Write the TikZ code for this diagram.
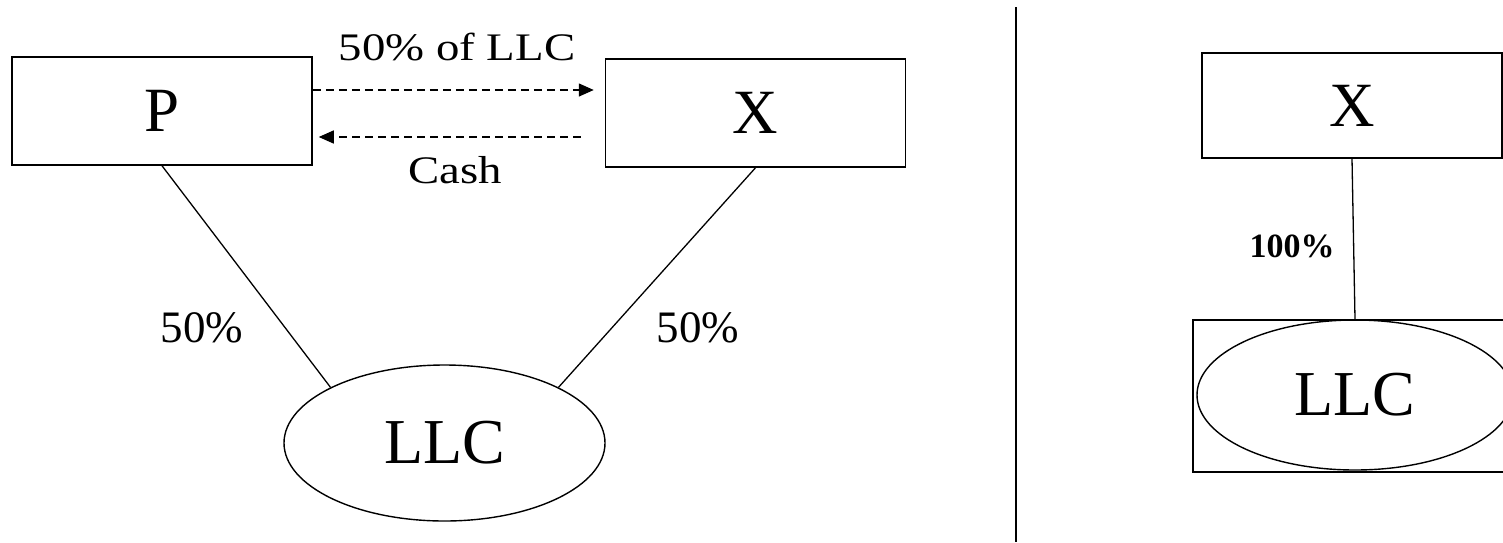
\documentclass[tikz,border=0pt]{standalone}
\usepackage{fontspec}
\setmainfont{Liberation Serif}
\usetikzlibrary{shapes.geometric,arrows.meta}

\begin{document}
\begin{tikzpicture}[x=1pt,y=-1pt,
  entity/.style={draw,line width=1.5pt,minimum width=300pt,minimum height=108pt,inner sep=0pt,font=\fontsize{63}{70}\selectfont},
  llc/.style={draw,ellipse,line width=1.4pt,inner sep=0pt,font=\fontsize{64}{70}\selectfont},
  owns/.style={line width=1.3pt},
  swap/.style={line width=1.4pt,dash pattern=on 8pt off 5pt,-{Triangle[length=15pt,width=13pt]}},
  pct/.style={anchor=base,font=\fontsize{45}{50}\selectfont},
  deal/.style={anchor=base,font=\fontsize{39}{44}\selectfont}]
\useasboundingbox (0,0) rectangle (1503,542);

%Shape: Rectangle
\node [entity] (P) at (162,111) {P};
%Shape: Rectangle
\node [entity] (X) at (755.5,113) {X};
%Shape: Ellipse
\node [llc,minimum width=321pt,minimum height=156pt] (LLC) at (444.5,443) {LLC};

%Straight Lines
\draw [owns] (P.south) -- (LLC.north west);
\draw [owns] (X.south) -- (LLC.north east);

%Straight Lines (dashed)
\draw [swap] ([yshift=21pt]P.east) -- ([xshift=-11pt,yshift=23pt]X.west);
\draw [swap] ([xshift=-24pt,yshift=-24pt]X.west) -- ([xshift=6pt,yshift=-26pt]P.east);

% Text Node
\node [deal] (offer) at (457,60) {\scalebox{1.2}[1]{50\% of LLC}};
% Text Node
\node [deal] (cash) at (455,183) {\scalebox{1.2}[1]{Cash}};
% Text Node
\node [pct] (shareP) at (202,342) {50\%};
% Text Node
\node [pct] (shareX) at (698,342) {50\%};

%Straight Lines [divider]
\draw [line width=2.5pt] (1016,7) -- (1016,542);

%Shape: Rectangle
\node [entity,minimum height=105pt] (X2) at (1352,105.5) {X};
%Shape: Rectangle
\node [draw,line width=1.5pt,minimum width=324pt,minimum height=152pt,inner sep=0pt] (frame) at (1355,396) {};
%Shape: Ellipse
\node [llc,minimum width=316pt,minimum height=150pt] (LLC2) at (1355,395) {LLC};

%Straight Lines
\draw [owns] (X2.south) -- (LLC2.north);

% Text Node
\node [anchor=base,font=\bfseries\fontsize{34}{40}\selectfont] (full) at (1292,257) {100\%};

\end{tikzpicture}
\end{document}
